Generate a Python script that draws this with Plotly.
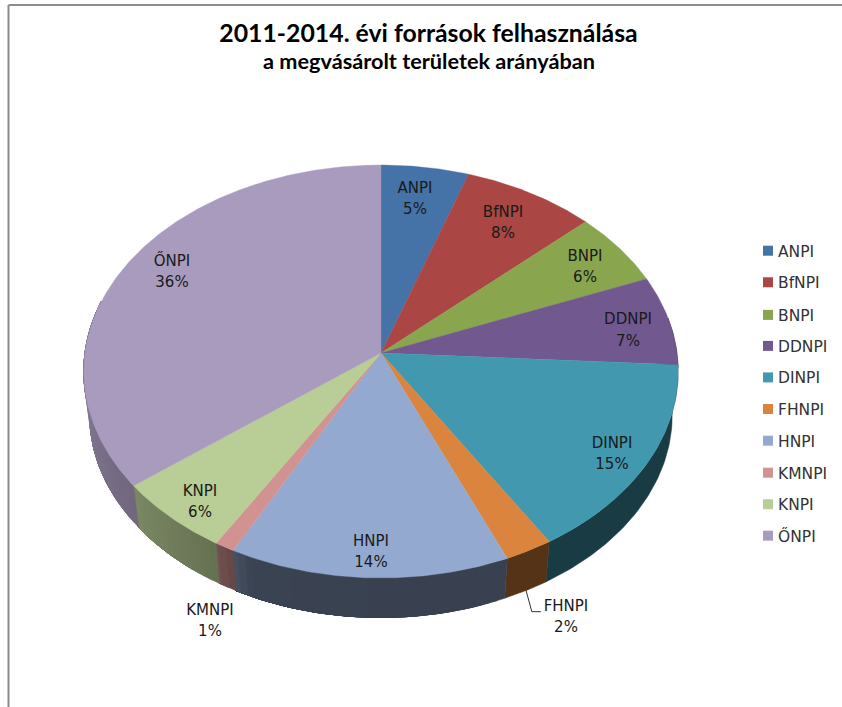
import numpy as np
import plotly.graph_objects as go

# ---- data ----
categories = ["ANPI", "BfNPI", "BNPI", "DDNPI", "DINPI", "FHNPI", "HNPI", "KMNPI", "KNPI", "ŐNPI"]
shares = [5.2, 7.9, 5.8, 7.0, 15.3, 2.4, 14.0, 1.0, 5.9, 35.5]
percent_labels = ["5%", "8%", "6%", "7%", "15%", "2%", "14%", "1%", "6%", "36%"]
colors = ["#4572A7", "#AA4643", "#89A54E", "#71588F", "#4198AF",
          "#DB843D", "#93A9CF", "#D19392", "#B9CD96", "#A99BBD"]
title_text = "2011-2014. évi források felhasználása"
subtitle_text = "a megvásárolt területek arányában"

# ---- label placement (pixel space of the page) ----
label_x = [415, 503, 585, 628, 612, 566, 371, 210, 200, 172]
name_y = [189, 213, 257, 320, 444, 607, 542, 611, 492, 262]
pct_y = [210, 234, 278, 342, 465, 628, 563, 632, 513, 283]
key_y = [250.7, 282.3, 314.9, 345.9, 377.4, 409, 440.7, 472.7, 504.2, 535.7]

# ---- geometry of the tilted disc ----
CX, CY, B, A, C = 381.0, 353.0, 296.0, 204.8, 0.0896
RIM_SCALE, RIM_DROP = 0.98, 44.0


def project(theta_deg, lower=False):
    t = np.radians(theta_deg)
    u, v = np.sin(t), -np.cos(t)
    d = 1 - C * v
    X, Y = B * u / d, A * v / d
    if lower:
        return CX + X * RIM_SCALE, CY + Y * RIM_SCALE + RIM_DROP
    return CX + X, CY + Y


def rgb(h):
    return np.array([int(h[i:i + 2], 16) for i in (1, 3, 5)], dtype=float)


SHADE_T = [0, 90, 180, 203, 210, 232, 270, 360]
SHADE_V = [0.39, 0.39, 0.39, 0.40, 0.55, 0.67, 0.80, 0.80]

fig = go.Figure()
edges = np.concatenate([[0], np.cumsum(shares)]) / sum(shares) * 360


def add_wall(t0, t1, base):
    col = rgb(base) * np.interp(t0, SHADE_T, SHADE_V)
    css = "rgb(%d,%d,%d)" % tuple(col)
    arc = np.linspace(t0, t1, max(3, int(t1 - t0) + 2))
    ux, uy = project(arc)
    lx, ly = project(arc[::-1], lower=True)
    fig.add_trace(go.Scatter(
        x=np.concatenate([ux, lx, ux[:1]]), y=np.concatenate([uy, ly, uy[:1]]),
        mode="lines", fill="toself", fillcolor=css,
        line=dict(color=css, width=0.5), showlegend=False, hoverinfo="skip"))


# side walls: nested polygons, so the shading runs on without seams
for i, c in enumerate(colors):
    a0, a1 = edges[i], edges[i + 1]
    if a1 < 80 or a0 > 285:
        continue
    a0, a1 = max(a0, 80), min(a1, 285)
    varies = abs(np.interp(a0, SHADE_T, SHADE_V) - np.interp(a1, SHADE_T, SHADE_V)) > 0.005
    starts = np.arange(a0, a1, 1.5) if varies else [a0]
    for s in starts:
        add_wall(s, a1, c)

# top faces
for i, c in enumerate(colors):
    arc = np.linspace(edges[i], edges[i + 1], max(3, int(edges[i + 1] - edges[i]) * 2))
    ux, uy = project(arc)
    fig.add_trace(go.Scatter(
        x=np.concatenate([[CX], ux, [CX]]), y=np.concatenate([[CY], uy, [CY]]),
        mode="lines", fill="toself", fillcolor=c,
        line=dict(color=c, width=0.4), showlegend=False,
        hovertemplate=categories[i] + " " + percent_labels[i] + "<extra></extra>"))

# colour key
fig.add_trace(go.Scatter(
    x=[768] * len(categories), y=key_y, mode="markers",
    marker=dict(symbol="square", size=10, color=colors, line=dict(width=0)),
    showlegend=False, hoverinfo="skip"))
fig.add_trace(go.Scatter(
    x=[778] * len(categories), y=[k + 2 for k in key_y], mode="text", text=categories,
    textposition="middle right",
    textfont=dict(family="DejaVu Sans", size=15.5, color="#333333"),
    showlegend=False, hoverinfo="skip"))

# leader line for the small slice
fh = categories.index("FHNPI")
mid_fh = (edges[fh] + edges[fh + 1]) / 2
lead_x, lead_y = project(mid_fh, lower=True)
fig.add_trace(go.Scatter(
    x=[lead_x, lead_x + 6, lead_x + 15], y=[lead_y - 1, lead_y + 21, lead_y + 21],
    mode="lines", line=dict(color="#333333", width=1), showlegend=False, hoverinfo="skip"))

# data labels
LABEL_FONT = dict(family="DejaVu Sans", size=15, color="#1a1a1a")
fig.add_trace(go.Scatter(x=label_x, y=name_y, mode="text", text=categories,
                         textposition="middle center", textfont=LABEL_FONT,
                         showlegend=False, hoverinfo="skip"))
fig.add_trace(go.Scatter(x=label_x, y=pct_y, mode="text", text=percent_labels,
                         textposition="middle center", textfont=LABEL_FONT,
                         showlegend=False, hoverinfo="skip"))

fig.update_layout(
    width=842, height=707, margin=dict(l=0, r=0, t=0, b=0, pad=0),
    paper_bgcolor="white", plot_bgcolor="white", hovermode="closest", showlegend=False,
    xaxis=dict(range=[0, 842], visible=False, fixedrange=True),
    yaxis=dict(range=[707, 0], visible=False, fixedrange=True),
    title=dict(text="<b>%s</b>" % title_text, x=428.5 / 842, xanchor="center",
               y=1 - 33 / 707, yanchor="middle",
               font=dict(family="Lato", size=24.8, color="#000000")),
    annotations=[dict(text="<b>%s</b>" % subtitle_text, x=428.5, y=61, xref="x", yref="y",
                      showarrow=False, xanchor="center", yanchor="middle",
                      font=dict(family="Lato", size=21.7, color="#000000"))],
    shapes=[
        dict(type="line", x0=8.5, x1=842, y0=5, y1=5, xref="x", yref="y",
             line=dict(color="#8c8c8c", width=2)),
        dict(type="line", x0=8.5, x1=8.5, y0=5, y1=707, xref="x", yref="y",
             line=dict(color="#8c8c8c", width=2)),
    ],
)
fig.write_html("out.html", config=dict(displayModeBar=False),
               post_script="document.body.style.margin='0';")
